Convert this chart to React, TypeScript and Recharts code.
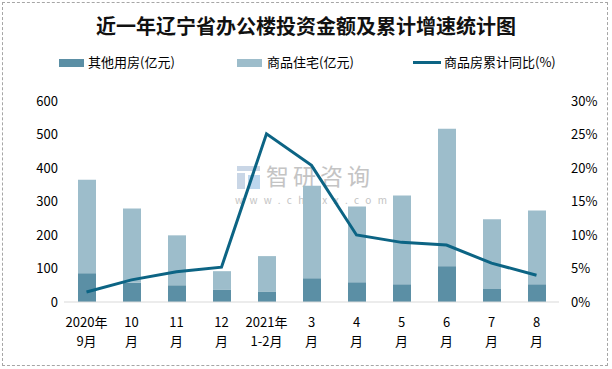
import React from "react";
import { ComposedChart, Bar, Line, XAxis, YAxis } from "recharts";

const catLine1 = ["2020年", "10", "11", "12", "2021年", "3", "4", "5", "6", "7", "8"];
const catLine2 = ["9月", "月", "月", "月", "1-2月", "月", "月", "月", "月", "月", "月"];
const otherUse = [86, 58, 50, 36, 30, 71, 59, 53, 107, 39, 53];
const residential = [279, 221, 149, 56, 107, 276, 226, 265, 410, 208, 220];
const growth = [1.5, 3.3, 4.5, 5.2, 25.1, 20.4, 10.0, 8.9, 8.5, 5.8, 4.0];
const leftTicks = [0, 100, 200, 300, 400, 500, 600];
const rightTicks = [0, 5, 10, 15, 20, 25, 30];

const data = catLine1.map((c, i) => ({
  name: c + catLine2[i],
  other: otherUse[i],
  res: residential[i],
  growth: growth[i],
}));

const DARK = "#5b8fa5";
const LIGHT = "#9dbdcb";
const LINE = "#0c6484";
const FONT = "'Noto Sans CJK SC', 'Noto Sans', sans-serif";

const XTick = (props: any) => {
  const { x, y, index } = props;
  return (
    <g>
      <text x={x} y={y + 25} textAnchor="middle" fontSize={13} fill="#000" fontFamily={FONT}>
        {catLine1[index]}
      </text>
      <text x={x} y={y + 44} textAnchor="middle" fontSize={13} fill="#000" fontFamily={FONT}>
        {catLine2[index]}
      </text>
    </g>
  );
};

const LegendBlock = () => (
  <div style={{ position: "absolute", left: 0, top: 53, width: 612, height: 20, fontFamily: FONT, fontSize: 13, color: "#000" }}>
    <div style={{ position: "absolute", left: 59, top: 6, width: 25, height: 8, background: DARK }} />
    <div style={{ position: "absolute", left: 88, top: 0, lineHeight: "18px", whiteSpace: "nowrap" }}>其他用房(亿元)</div>
    <div style={{ position: "absolute", left: 237, top: 6, width: 25, height: 8, background: LIGHT }} />
    <div style={{ position: "absolute", left: 267, top: 0, lineHeight: "18px", whiteSpace: "nowrap" }}>商品住宅(亿元)</div>
    <div style={{ position: "absolute", left: 413, top: 8, width: 28, height: 3, background: LINE }} />
    <div style={{ position: "absolute", left: 444, top: 0, lineHeight: "18px", whiteSpace: "nowrap" }}>商品房累计同比(%)</div>
  </div>
);

export default function App() {
  return (
    <div style={{ position: "absolute", left: 0, top: 0, width: 612, height: 369, background: "#fff", fontFamily: FONT }}>
      <div
        style={{
          position: "absolute",
          left: 2,
          top: 2,
          width: 604,
          height: 362,
          border: "1px dashed #a6a6a6",
        }}
      />
      <div
        style={{
          position: "absolute",
          left: 0,
          top: 13,
          width: 612,
          textAlign: "center",
          fontSize: 20,
          fontWeight: "bold",
          lineHeight: "26px",
          color: "#111",
          fontFamily: FONT,
        }}
      >
        近一年辽宁省办公楼投资金额及累计增速统计图
      </div>
      <LegendBlock />
      {/* watermark */}
      <div style={{ position: "absolute", left: 237, top: 166, width: 23, height: 23 }}>
        <div style={{ position: "absolute", left: 0, top: 0, width: 23, height: 5, background: "#c9d6e6" }} />
        <div style={{ position: "absolute", left: 0, top: 7, width: 8, height: 16, background: "#c9d6e6" }} />
        <div style={{ position: "absolute", left: 11, top: 9, width: 12, height: 14, background: "#bdd7ee" }} />
      </div>
      <div
        style={{
          position: "absolute",
          left: 266,
          top: 164,
          fontSize: 23,
          lineHeight: "23px",
          color: "#c4c4c4",
          letterSpacing: 4,
          whiteSpace: "nowrap",
          fontFamily: FONT,
        }}
      >
        智研咨询
      </div>
      <div
        style={{
          position: "absolute",
          left: 235,
          top: 194,
          fontSize: 10,
          lineHeight: "11px",
          color: "#c4c4c4",
          letterSpacing: 6.4,
          whiteSpace: "nowrap",
          fontFamily: FONT,
        }}
      >
        www.chyxx.com
      </div>
      <div style={{ position: "absolute", left: 0, top: 0 }}>
        <ComposedChart
          width={612}
          height={369}
          data={data}
          margin={{ top: 101, right: 0, bottom: 0, left: 0 }}
          barCategoryGap={0}
        >
          <XAxis
            dataKey="name"
            height={67}
            tickLine={false}
            tickSize={0}
            tickMargin={0}
            axisLine={{ stroke: "#d9d9d9", strokeWidth: 1 }}
            tick={<XTick />}
            interval={0}
          />
          <YAxis
            yAxisId="left"
            orientation="left"
            width={64}
            domain={[0, 600]}
            ticks={leftTicks}
            axisLine={false}
            tickLine={false}
            tickSize={0}
            tickMargin={6}
            tick={{ fontSize: 13, fill: "#000", fontFamily: FONT }}
            interval={0}
          />
          <YAxis
            yAxisId="right"
            orientation="right"
            width={53}
            domain={[0, 30]}
            ticks={rightTicks}
            axisLine={false}
            tickLine={false}
            tickSize={0}
            tickMargin={12}
            tickFormatter={(v: number) => `${v}%`}
            tick={{ fontSize: 13, fill: "#000", fontFamily: FONT, textAnchor: "start" }}
            interval={0}
          />
          <Bar yAxisId="left" dataKey="other" stackId="a" fill={DARK} barSize={18} isAnimationActive={false} />
          <Bar yAxisId="left" dataKey="res" stackId="a" fill={LIGHT} barSize={18} isAnimationActive={false} />
          <Line
            yAxisId="right"
            dataKey="growth"
            stroke={LINE}
            strokeWidth={3}
            dot={false}
            activeDot={false}
            type="linear"
            isAnimationActive={false}
          />
        </ComposedChart>
      </div>
    </div>
  );
}
